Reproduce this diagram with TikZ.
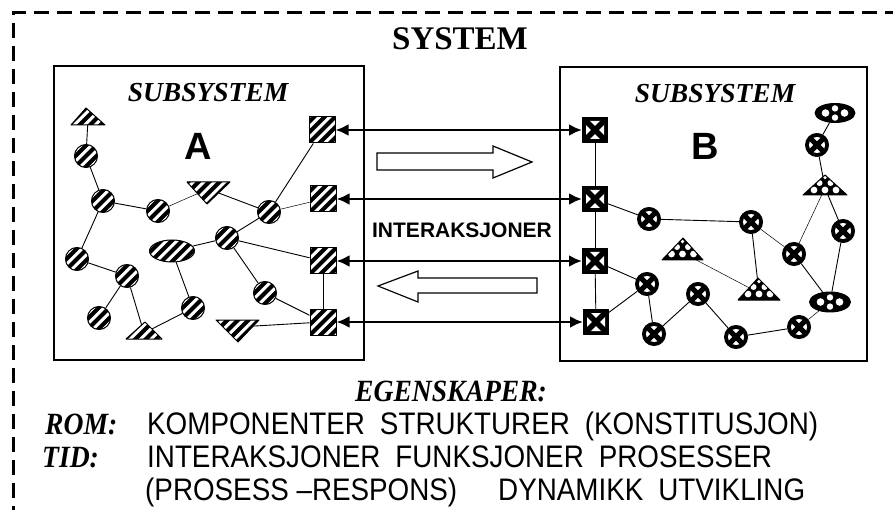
\documentclass[tikz,border=0pt]{standalone}
\usepackage{fontspec}
\setmainfont{Liberation Serif}
\newfontfamily\sansf{Liberation Sans}
\usetikzlibrary{shapes.geometric,arrows.meta,backgrounds}
\tikzset{
  hatchA/.style={draw=black, line width=1pt, fill=white, line join=round,
    path picture={\foreach \k in {-6,...,6}{\draw[black,line width=4pt,shift={(path picture bounding box.center)}] (\k*10.5pt-30pt,-30pt) -- ++(60pt,60pt);}}},
  circA/.style={circle, minimum size=23pt, inner sep=0pt, hatchA},
  sqA/.style={rectangle, minimum size=26pt, inner sep=0pt, hatchA},
  ellA/.style={ellipse, minimum width=45pt, minimum height=22pt, inner sep=0pt, hatchA},
  dotfill/.style={draw=black, line width=1pt, fill=black, line join=round},
  circB/.style={circle, minimum size=23pt, inner sep=0pt, dotfill,
    path picture={\begin{scope}[shift={(path picture bounding box.center)}]
      \fill[white] (0pt,0pt) circle[radius=8pt];
      \draw[black,line width=5pt] (-7pt,-7pt) -- (7pt,7pt) (-7pt,7pt) -- (7pt,-7pt);
      \fill[black] (0pt,0pt) circle[radius=3pt];
    \end{scope}}},
  sqB/.style={rectangle, minimum size=25pt, inner sep=0pt, dotfill,
    path picture={\begin{scope}[shift={(path picture bounding box.center)}]
      \fill[white, rounded corners=3pt] (-9pt,-9pt) rectangle (9pt,9pt);
      \draw[black,line width=5.5pt] (-10pt,-10pt) -- (10pt,10pt) (-10pt,10pt) -- (10pt,-10pt);
      \fill[black] (0pt,0pt) circle[radius=3.5pt];
    \end{scope}}},
  ellB/.style={ellipse, minimum width=40pt, minimum height=19pt, inner sep=0pt, dotfill,
    path picture={\fill[white,shift={(path picture bounding box.center)}] (0pt,4.6pt) circle[radius=3.2pt] (0pt,-4.6pt) circle[radius=3.2pt] (9.5pt,0pt) circle[radius=3.8pt] (-9.5pt,0pt) circle[radius=3.8pt];}},
  triB/.style={dotfill,
    path picture={\fill[white,shift={(path picture bounding box.center)}] (-11pt,-5pt) circle[radius=3.4pt] (0pt,-5pt) circle[radius=3.4pt] (11pt,-5pt) circle[radius=3.4pt] (-5.5pt,2pt) circle[radius=3pt] (5.5pt,2pt) circle[radius=3pt] (0pt,7.5pt) circle[radius=1.8pt];}},
  link/.style={line width=0.9pt},
  thinlink/.style={line width=0.5pt},
  inter/.style={line width=2.7pt, >={Latex[length=13pt,width=12pt]}, <->},
  boxline/.style={line width=2pt},
  blockarrow/.style={line width=1.2pt, line join=miter},
  txt/.style={inner sep=0pt},
}
\newcommand{\tallsans}[1]{\scalebox{1}[1.12]{#1}}
\begin{document}
\begin{tikzpicture}[x=1pt,y=-1pt]
\useasboundingbox (0,0) rectangle (893,510);
% outer dashed system border
\draw[line width=3pt, dash pattern=on 15pt off 8pt] (900,13) -- (13,13) -- (13,520);
\node[txt, anchor=base, font=\fontsize{33}{36}\selectfont\bfseries] (title) at (460,50) {SYSTEM};
% subsystem boxes
\draw[boxline] (54,66) rectangle (364,360);
\draw[boxline] (560,67) rectangle (867,361);
\node[txt, anchor=base, font=\fontsize{27.5}{30}\selectfont\bfseries\itshape] (subA) at (208,102) {SUBSYSTEM};
\node[txt, anchor=base, font=\fontsize{27.5}{30}\selectfont\bfseries\itshape] (subB) at (715,103) {SUBSYSTEM};
\node[txt, anchor=base, font=\sansf\bfseries\fontsize{38}{40}\selectfont] (labA) at (198,160) {A};
\node[txt, anchor=base, font=\sansf\bfseries\fontsize{38}{40}\selectfont] (labB) at (705,160) {B};
% ---------- subsystem A nodes ----------
\coordinate (aT1) at (88,119);
\coordinate (aT2) at (208,189);
\coordinate (aT3) at (144,333);
\coordinate (aT4) at (238,327);
\path[hatchA, shift={(aT1)}] (-17,6) -- (-2,-11) -- (17,6) -- cycle;
\path[hatchA, shift={(aT2)}] (-21,-7) -- (22,-7) -- (-1,15) -- cycle;
\path[hatchA, shift={(aT3)}] (-18,6) -- (1,-11) -- (18,6) -- cycle;
\path[hatchA, shift={(aT4)}] (-22,-7) -- (21,-7) -- (0,15) -- cycle;
\node[circA] (aC1) at (86,156) {};
\node[circA] (aC2) at (103,201) {};
\node[circA] (aC3) at (158,211) {};
\node[circA] (aC4) at (269,212) {};
\node[circA] (aC5) at (227,238) {};
\node[ellA]  (aE)  at (172,251) {};
\node[circA] (aCL) at (77,259) {};
\node[circA] (aC6) at (127,276) {};
\node[circA] (aCLL) at (99,318) {};
\node[circA] (aC7) at (193,308) {};
\node[circA] (aC8) at (265,293) {};
\node[sqA] (aS1) at (322,130) {};
\node[sqA] (aS2) at (323,199) {};
\node[sqA] (aS3) at (323,261) {};
\node[sqA] (aS4) at (323,322) {};
% ---------- subsystem B nodes ----------
\coordinate (bT1) at (825,188);
\coordinate (bT2) at (683,253);
\coordinate (bT3) at (759,293);
\path[triB, shift={(bT1)}] (-22,7) -- (0,-13) -- (22,7) -- cycle;
\path[triB, shift={(bT2)}] (-21,7) -- (0,-15) -- (20,7) -- cycle;
\path[triB, shift={(bT3)}] (-21,7) -- (-1,-15) -- (21,7) -- cycle;
\node[ellB] (bE1) at (835,113) {};
\node[circB] (bC1) at (817,145) {};
\node[sqB] (bS1) at (595,130) {};
\node[sqB] (bS2) at (595,199) {};
\node[sqB] (bS3) at (595,261) {};
\node[sqB] (bS4) at (596,322) {};
\node[circB] (bC2) at (649,219) {};
\node[circB] (bC3) at (751,222) {};
\node[circB] (bC4) at (794,254) {};
\node[circB] (bC5) at (843,231) {};
\node[ellB, minimum width=41pt, minimum height=20pt] (bE2) at (830,302) {};
\node[circB] (bC6) at (647,284) {};
\node[circB] (bC7) at (698,294) {};
\node[circB] (bC8) at (654,334) {};
\node[circB] (bC9) at (736,337) {};
\node[circB] (bC10) at (799,327) {};
% ---------- connections ----------
\begin{scope}[on background layer]
\draw[link] (aT1) -- (aC1);
\draw[link] (aC1) -- (aC2);
\draw[link] (aC2) -- (aC3);
\draw[thinlink] (aC3) -- (aT2);
\draw[link] (aT2) -- (aC4);
\draw[link] (aC4) -- (aS1);
\draw[thinlink] (aC4) -- (aS2);
\draw[link] (aC4) -- (aC5);
\draw[link] (aC5) -- (aE);
\draw[link] (aC5) -- (aS3);
\draw[link] (aC5) -- (aC8);
\draw[link] (aC8) -- (aS4);
\draw[link] (aS3) -- (aS4);
\draw[link] (aS4) -- (aT4);
\draw[link] (aE) -- (aC7);
\draw[link] (aC7) -- (aT3);
\draw[link] (aC2) -- (aCL);
\draw[link] (aCL) -- (aC6);
\draw[link] (aC6) -- (aCLL);
\draw[link] (aC6) -- (aT3);
\draw[link] (bE1) -- (bC1);
\draw[link] (bC1) -- (bT1);
\draw[link] (bS1) -- (bS2);
\draw[link] (bS2) -- (bS3);
\draw[link] (bS3) -- (bS4);
\draw[link] (bS2) -- (bC2);
\draw[link] (bC2) -- (bC3);
\draw[thinlink] (bC3) -- (bC4);
\draw[link] (bC3) -- (bT3);
\draw[thinlink] (bT1) -- (bC4);
\draw[link] (bT1) -- (bC5);
\draw[link] (bC5) -- (bE2);
\draw[link] (bC4) -- (bE2);
\draw[thinlink] (bE2) -- (bC10);
\draw[link] (bC10) -- (bC9);
\draw[link] (bC9) -- (bC7);
\draw[link] (bC7) -- (bC8);
\draw[link] (bC8) -- (bC6);
\draw[link] (bC6) -- (bS3);
\draw[link] (bC6) -- (bS4);
\draw[thinlink] (bT2) -- (bT3);
\end{scope}
% ---------- interactions ----------
\draw[inter] (aS1) -- (bS1);
\draw[inter] (aS2) -- (bS2);
\draw[inter] (aS3) -- (bS3);
\draw[inter] (aS4) -- (bS4);
\draw[blockarrow] (377,153) -- (493,153) -- (493,146) -- (532,162) -- (493,178) -- (493,170) -- (377,170) -- cycle;
\draw[blockarrow] (537,278) -- (418,278) -- (418,271) -- (378,286) -- (418,302) -- (418,293) -- (537,293) -- cycle;
\node[txt, anchor=base, font=\sansf\bfseries\fontsize{21}{24}\selectfont] (interlab) at (462,238) {INTERAKSJONER};
% ---------- properties ----------
\node[txt, anchor=base west, font=\fontsize{27.6}{30}\selectfont\bfseries\itshape] (egen) at (355,401) {\tallsans{EGENSKAPER:}};
\node[txt, anchor=base west, font=\fontsize{27.6}{30}\selectfont\bfseries\itshape] (rom) at (45,434) {\tallsans{ROM:}};
\node[txt, anchor=base west, font=\sansf\fontsize{27.8}{30}\selectfont] (romtxt) at (147,434) {\tallsans{KOMPONENTER\hspace{15pt}STRUKTURER\hspace{15pt}(KONSTITUSJON)}};
\node[txt, anchor=base west, font=\fontsize{27.6}{30}\selectfont\bfseries\itshape] (tid) at (42,467) {\tallsans{TID:}};
\node[txt, anchor=base west, font=\sansf\fontsize{27.8}{30}\selectfont] (tidtxt) at (147,467) {\tallsans{INTERAKSJONER\hspace{15pt}FUNKSJONER\hspace{15pt}PROSESSER}};
\node[txt, anchor=base west, font=\sansf\fontsize{27.8}{30}\selectfont] (prosess) at (145,500) {\tallsans{(PROSESS –RESPONS)}};
\node[txt, anchor=base west, font=\sansf\fontsize{27.8}{30}\selectfont] (dyn) at (498,500) {\tallsans{DYNAMIKK\hspace{15pt}UTVIKLING}};
\end{tikzpicture}
\end{document}
